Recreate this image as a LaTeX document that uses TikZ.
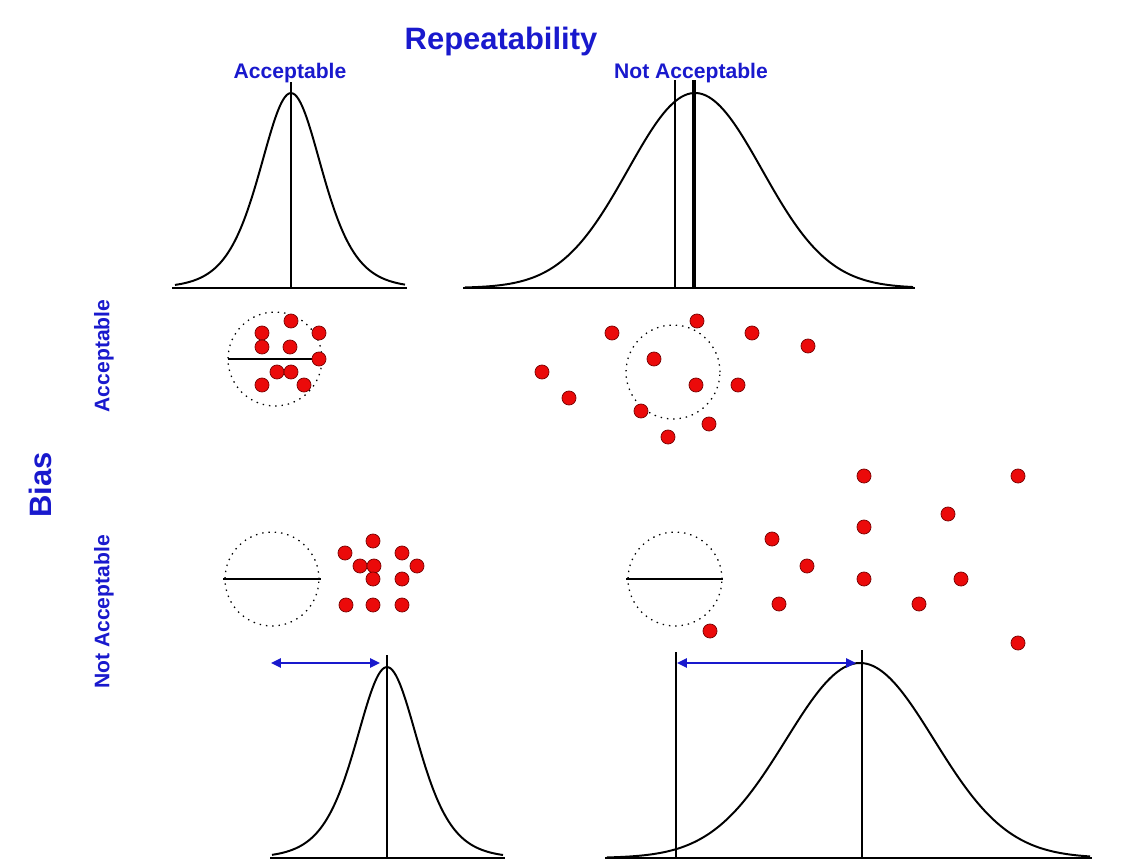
\documentclass[tikz,border=0pt]{standalone}
\usepackage{fontspec}
\setmainfont{Liberation Sans}
\usetikzlibrary{arrows.meta}
\definecolor{labelblue}{RGB}{25,25,205}
\definecolor{dotred}{RGB}{235,10,10}

\begin{document}
\begin{tikzpicture}[x=0.025cm,y=-0.025cm,
  curve/.style={line width=1.4pt,line join=round},
  meanline/.style={line width=0.9pt},
  groundline/.style={line width=1.3pt},
  reddot/.style={fill=dotred,draw=black!55!red,line width=0.5pt},
  target/.style={line width=0.9pt,dash pattern=on 1pt off 3.5pt},
  biasarrow/.style={labelblue,line width=1.3pt,
    {Triangle[length=7pt,width=6.5pt]}-{Triangle[length=7pt,width=6.5pt]}},
  title/.style={text=labelblue,inner sep=0pt,font=\fontsize{22}{26}\selectfont\bfseries},
  heading/.style={text=labelblue,inner sep=0pt,font=\fontsize{15}{18}\selectfont\bfseries}]
  \useasboundingbox (0,0) rectangle (1124,863);

  % labels
  \node[title,anchor=base] (rep) at (501,49) {Repeatability};
  \node[heading,anchor=base] (repok) at (290,78) {Acceptable};
  \node[heading,anchor=base] (repnot) at (691,78) {Not Acceptable};
  \node[title,rotate=90] (bias) at (40,485) {Bias};
  \node[heading,rotate=90] (biasok) at (104,356) {Acceptable};
  \node[heading,rotate=90] (biasnot) at (104,612) {Not Acceptable};

  % top curves
  \draw[groundline] (172,288) -- (407,288);
  \draw[curve,domain=175:405,samples=120,smooth] plot(\x,{288-195/cosh((\x-291)/42)^2});
  \draw[meanline] (291,82) -- (291,288);
  \draw[groundline] (463,288) -- (915,288);
  \draw[curve,domain=465:913,samples=150,smooth] plot(\x,{288-195*exp(-((\x-695)/67)^2/2)});
  \draw[meanline] (675,80) -- (675,288);
  \draw[line width=2.2pt] (694,80) -- (694,288);

  % targets
  \draw[target] (275,359) circle[radius=33.4pt];
  \draw[meanline] (228,359) -- (318,359);
  \draw[target] (673,372) circle[radius=33.4pt];
  \draw[target] (272,579) circle[radius=33.4pt];
  \draw[meanline] (223,579) -- (321,579);
  \draw[target] (675,579) circle[radius=33.4pt];
  \draw[meanline] (626,579) -- (723,579);

  % shots
  \foreach \p in {(291,321),(262,333),(319,333),(262,347),(290,347),(319,359),
                  (277,372),(291,372),(262,385),(304,385)}
    \draw[reddot] \p circle[radius=5pt];
  \foreach \p in {(697,321),(612,333),(752,333),(808,346),(654,359),(542,372),
                  (696,385),(738,385),(569,398),(641,411),(709,424),(668,437)}
    \draw[reddot] \p circle[radius=5pt];
  \foreach \p in {(373,541),(345,553),(402,553),(360,566),(374,566),(417,566),
                  (373,579),(402,579),(346,605),(373,605),(402,605)}
    \draw[reddot] \p circle[radius=5pt];
  \foreach \p in {(864,476),(1018,476),(948,514),(864,527),(772,539),(807,566),
                  (864,579),(961,579),(779,604),(919,604),(710,631),(1018,643)}
    \draw[reddot] \p circle[radius=5pt];

  % bottom curves
  \draw[groundline] (270,858) -- (505,858);
  \draw[curve,domain=272:503,samples=120,smooth] plot(\x,{858-191/cosh((\x-387)/42)^2});
  \draw[meanline] (387,655) -- (387,858);
  \coordinate (refl) at (271,663);
  \coordinate (meanl) at (380,663);
  \draw[biasarrow] (refl) -- (meanl);

  \draw[groundline] (605,858) -- (1092,858);
  \draw[curve,domain=607:1090,samples=150,smooth] plot(\x,{858-195*exp(-((\x-860)/74)^2/2)});
  \draw[meanline] (676,652) -- (676,858);
  \draw[meanline] (862,650) -- (862,858);
  \coordinate (refr) at (677,663);
  \coordinate (meanr) at (856,663);
  \draw[biasarrow] (refr) -- (meanr);
\end{tikzpicture}
\end{document}
